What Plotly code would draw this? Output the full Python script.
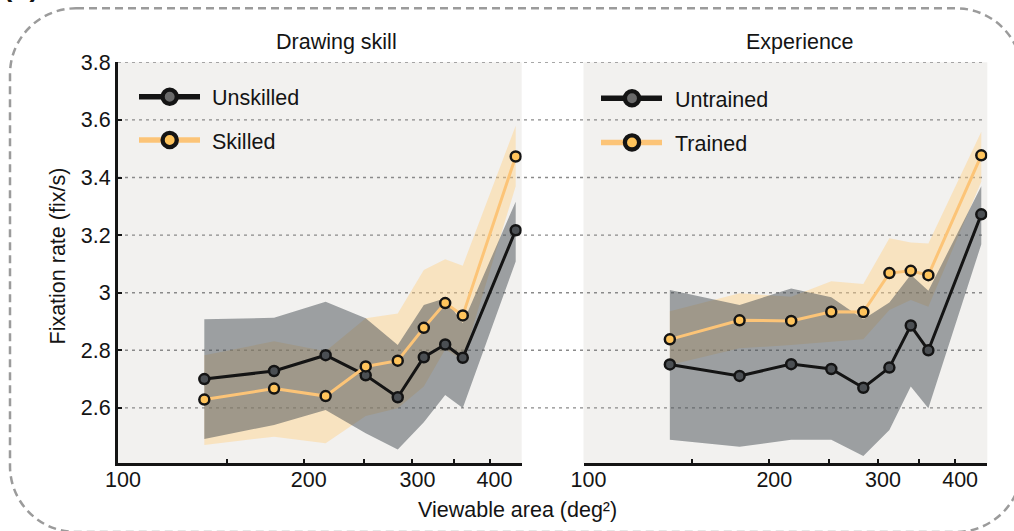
import math
import plotly.graph_objects as go

W, H = 1014, 531

# Viewable area bins (deg^2), shared by both panels
area = [138, 179, 217, 252, 284, 313, 339, 362, 441]

# Drawing skill panel
unskilled_mean = [2.700, 2.728, 2.783, 2.713, 2.637, 2.776, 2.820, 2.774, 3.217]
unskilled_lo = [2.492, 2.541, 2.593, 2.512, 2.456, 2.550, 2.645, 2.600, 3.108]
unskilled_hi = [2.908, 2.913, 2.969, 2.911, 2.818, 2.957, 2.981, 2.894, 3.316]
skilled_mean = [2.629, 2.667, 2.641, 2.744, 2.764, 2.878, 2.964, 2.921, 3.473]
skilled_lo = [2.471, 2.500, 2.477, 2.572, 2.599, 2.674, 2.803, 2.766, 3.370]
skilled_hi = [2.783, 2.831, 2.797, 2.911, 2.928, 3.079, 3.116, 3.094, 3.580]

# Experience panel
untrained_mean = [2.751, 2.711, 2.752, 2.735, 2.670, 2.740, 2.886, 2.800, 3.272]
untrained_lo = [2.489, 2.465, 2.489, 2.489, 2.433, 2.523, 2.674, 2.599, 3.168]
untrained_hi = [3.009, 2.957, 3.015, 2.984, 2.908, 2.966, 3.062, 3.007, 3.370]
trained_mean = [2.838, 2.904, 2.902, 2.934, 2.933, 3.068, 3.076, 3.061, 3.477]
trained_lo = [2.749, 2.807, 2.818, 2.830, 2.838, 2.940, 2.975, 2.951, 3.385]
trained_hi = [2.936, 2.998, 2.986, 3.040, 3.030, 3.189, 3.174, 3.171, 3.559]

panel_titles = ["Drawing skill", "Experience"]
legend_labels = [["Unskilled", "Skilled"], ["Untrained", "Trained"]]

x_tick_vals = [100, 150, 200, 250, 300, 350, 400]
x_tick_text = ["100", "", "200", "", "300", "", "400"]
y_tick_vals = [2.6, 2.8, 3.0, 3.2, 3.4, 3.6, 3.8]
y_tick_text = ["2.6", "2.8", "3", "3.2", "3.4", "3.6", "3.8"]

FONT = "Liberation Sans, Arial, Helvetica, sans-serif"
FS = 21.5
INK = "#141414"
GOLD_LINE = "#fcc477"
GOLD_MARK = "#ffc45c"
GRAY_MARK = "#4b4f53"
LEGEND_GRAY = "#6a6a6a"
BAND_GOLD = "rgba(255,210,140,0.47)"
BAND_GRAY = "rgba(70,77,83,0.50)"
PANEL_BG = "#f2f1ef"


def fx(px):
    return px / W


def fy(py):
    return 1 - py / H


fig = go.Figure()


def add_band(lo, hi, color, xa, ya):
    fig.add_trace(go.Scatter(
        x=area + area[::-1], y=hi + lo[::-1], fill="toself", fillcolor=color,
        mode="lines", line=dict(width=0), hoverinfo="skip", showlegend=False,
        xaxis=xa, yaxis=ya))


def add_series(mean, line_color, fill, name, xa, ya):
    fig.add_trace(go.Scatter(
        x=area, y=mean, mode="lines+markers", name=name, showlegend=False,
        line=dict(color=line_color, width=3),
        marker=dict(size=10, color=fill, line=dict(color=INK, width=2.5)),
        xaxis=xa, yaxis=ya))


# left panel
add_band(skilled_lo, skilled_hi, BAND_GOLD, "x", "y")
add_band(unskilled_lo, unskilled_hi, BAND_GRAY, "x", "y")
add_series(unskilled_mean, INK, GRAY_MARK, "Unskilled", "x", "y")
add_series(skilled_mean, GOLD_LINE, GOLD_MARK, "Skilled", "x", "y")

# right panel
add_band(trained_lo, trained_hi, BAND_GOLD, "x2", "y2")
add_band(untrained_lo, untrained_hi, BAND_GRAY, "x2", "y2")
add_series(untrained_mean, INK, GRAY_MARK, "Untrained", "x2", "y2")
add_series(trained_mean, GOLD_LINE, GOLD_MARK, "Trained", "x2", "y2")

tick_font = dict(family=FONT, size=FS, color=INK)
x_common = dict(
    type="log", range=[2, math.log10(451)], tickvals=x_tick_vals, ticktext=x_tick_text,
    ticks="inside", ticklen=4, tickwidth=2, tickcolor=INK, showline=True,
    linecolor=INK, linewidth=3, showgrid=False, zeroline=False,
    tickfont=tick_font, ticklabelshift=5, ticklabelstandoff=-5, fixedrange=True)
y_dom = [fy(463.2), fy(62.3)]
y_range = [2.408, 3.8]

fig.update_layout(
    width=W, height=H, margin=dict(l=0, r=0, t=0, b=0, autoexpand=False),
    paper_bgcolor="white", plot_bgcolor="rgba(0,0,0,0)",
    showlegend=False,
    xaxis=dict(domain=[fx(118), fx(521.7)], anchor="y", **x_common),
    xaxis2=dict(domain=[fx(583.5), fx(987.3)], anchor="y2", **x_common),
    yaxis=dict(domain=y_dom, anchor="x", range=y_range, tickvals=y_tick_vals,
               ticktext=y_tick_text, ticks="inside", ticklen=4, tickwidth=2,
               tickcolor=INK, showline=True, linecolor=INK, linewidth=3,
               showgrid=False, zeroline=False, tickfont=tick_font, fixedrange=True),
    yaxis2=dict(domain=y_dom, anchor="x2", range=y_range, showline=False,
                showticklabels=False, ticks="", showgrid=False, zeroline=False,
                fixedrange=True),
)

shapes = []
# panel backgrounds
for xr, yr in (("x domain", "y domain"), ("x2 domain", "y2 domain")):
    shapes.append(dict(type="rect", xref=xr, yref=yr, x0=0, x1=1, y0=0, y1=1,
                       fillcolor=PANEL_BG, line=dict(width=0), layer="below"))
# dotted grid running across both panels
for v in y_tick_vals:
    shapes.append(dict(type="line", xref="paper", yref="y", x0=fx(118), x1=fx(986),
                       y0=v, y1=v, line=dict(color="#8a8a8a", width=1.4, dash="3px,4px"),
                       layer="below"))

# legend glyphs
legend_rows = [
    (139, 200, 169.7, [96.7, 140.0]),
    (601, 662, 632.0, [98.3, 142.4]),
]
for (lx0, lx1, cx, rows) in legend_rows:
    for row, yy in enumerate(rows):
        lcol = INK if row == 0 else GOLD_LINE
        mcol = LEGEND_GRAY if row == 0 else GOLD_MARK
        shapes.append(dict(type="line", xref="paper", yref="paper", x0=fx(lx0), x1=fx(lx1),
                           y0=fy(yy), y1=fy(yy), line=dict(color=lcol, width=5.5), layer="above"))
        r = 7.1
        shapes.append(dict(type="circle", xref="paper", yref="paper",
                           x0=fx(cx - r), x1=fx(cx + r), y0=fy(yy + r), y1=fy(yy - r),
                           fillcolor=mcol, line=dict(color=INK, width=4.3), layer="above"))

# dashed rounded frame
L, T, R_, B, rad = 10, 8.3, 1022, 532, 66
k = 0.5523 * rad


def P(x, y):
    return f"{fx(x):.5f},{fy(y):.5f}"


frame = (f"M {P(L + rad, T)} L {P(R_ - rad, T)} "
         f"C {P(R_ - rad + k, T)} {P(R_, T + rad - k)} {P(R_, T + rad)} "
         f"L {P(R_, B - rad)} "
         f"C {P(R_, B - rad + k)} {P(R_ - rad + k, B)} {P(R_ - rad, B)} "
         f"L {P(L + rad, B)} "
         f"C {P(L + rad - k, B)} {P(L, B - rad + k)} {P(L, B - rad)} "
         f"L {P(L, T + rad)} "
         f"C {P(L, T + rad - k)} {P(L + rad - k, T)} {P(L + rad, T)} Z")
shapes.append(dict(type="path", xref="paper", yref="paper", path=frame,
                   line=dict(color="#9b9b9b", width=2.5, dash="8px,5px"), layer="above"))

fig.update_layout(shapes=shapes)

txt = dict(family=FONT, size=FS, color=INK)
annotations = [
    dict(text=panel_titles[0], x=fx(336), y=fy(42), xanchor="center", yanchor="middle"),
    dict(text=panel_titles[1], x=fx(800), y=fy(42), xanchor="center", yanchor="middle"),
    dict(text="Viewable area (deg²)", x=fx(517.5), y=fy(510), xanchor="center", yanchor="middle"),
    dict(text="Fixation rate (fix/s)", x=fx(57.5), y=fy(256), xanchor="center",
         yanchor="middle", textangle=-90),
]
for (lx0, lx1, cx, rows), labels in zip(legend_rows, legend_labels):
    tx = 210 if lx0 < 300 else 672.5
    for yy, lab in zip(rows, labels):
        annotations.append(dict(text=lab, x=fx(tx), y=fy(yy + 1.5), xanchor="left",
                                yanchor="middle"))
for a in annotations:
    a.update(xref="paper", yref="paper", showarrow=False, font=txt)
# panel letter sitting mostly above the top edge
annotations.append(dict(text="<b>(b)</b>", x=fx(1), y=fy(-13), xref="paper", yref="paper",
                        xanchor="left", yanchor="middle", showarrow=False,
                        font=dict(family=FONT, size=28, color=INK)))
fig.update_layout(annotations=annotations)

fig.write_html("out.html")
